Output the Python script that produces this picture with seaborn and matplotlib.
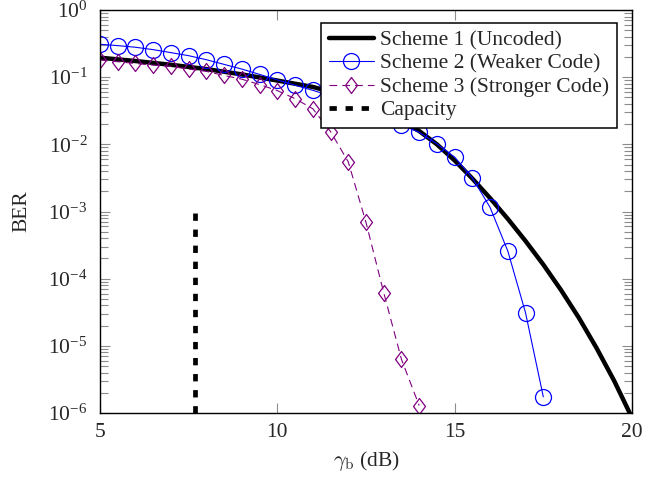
import numpy as np
import pandas as pd
import seaborn as sns
import matplotlib.pyplot as plt
from matplotlib.ticker import LogLocator, LogFormatterMathtext, NullFormatter, NullLocator

# Scheme 1 (uncoded)
snr_uncoded = [5, 6, 7, 8, 9, 10, 11, 12, 13, 14, 14.5, 15, 15.5, 16, 16.5, 17,
               17.5, 18, 18.5, 19, 19.5, 20]
ber_uncoded = [0.195, 0.174, 0.153, 0.132, 0.110, 0.0891, 0.0716, 0.0513, 0.0309,
               0.0158, 0.0100, 5.75e-3, 3.09e-3, 1.58e-3, 7.76e-4, 3.63e-4,
               1.62e-4, 6.76e-5, 2.63e-5, 9.3e-6, 3.0e-6, 8.5e-7]

# Scheme 2 (weaker code), every 0.5 dB
snr_weak = [5.0, 5.5, 6.0, 6.5, 7.0, 7.5, 8.0, 8.5, 9.0, 9.5, 10.0, 10.5, 11.0,
            11.5, 12.0, 12.5, 13.0, 13.5, 14.0, 14.5, 15.0, 15.5, 16.0, 16.5, 17.0, 17.5]
ber_weak = [0.309, 0.295, 0.279, 0.257, 0.232, 0.209, 0.182, 0.155, 0.132, 0.110,
            0.0912, 0.0759, 0.0638, 0.0525, 0.0417, 0.0331, 0.0257, 0.0195, 0.0151,
            0.0102, 6.46e-3, 3.16e-3, 1.15e-3, 2.57e-4, 3.09e-5, 1.74e-6]

# Scheme 3 (stronger code), every 0.5 dB
snr_strong = [5.0, 5.5, 6.0, 6.5, 7.0, 7.5, 8.0, 8.5, 9.0, 9.5, 10.0, 10.5, 11.0,
              11.5, 12.0, 12.5, 13.0, 13.5, 14.0]
ber_strong = [0.180, 0.170, 0.160, 0.151, 0.145, 0.132, 0.122, 0.106, 0.0933, 0.0776,
              0.0631, 0.0479, 0.0339, 0.0155, 5.5e-3, 6.9e-4, 6.2e-5, 6.3e-6, 1.29e-6]

# capacity limit marker
snr_capacity = [7.68, 7.68]
ber_capacity = [1e-6, 1e-3]

sns.set_style("ticks")
plt.rcParams["font.family"] = ["Liberation Serif", "DejaVu Serif"]
plt.rcParams["mathtext.fontset"] = "cm"

fig = plt.figure(figsize=(6.45, 4.79), dpi=100)
ax = fig.add_axes([0.155, 0.1378, 0.8248, 0.8413])

diamond = [(-0.75, 0), (0, 1), (0.75, 0), (0, -1), (-0.75, 0)]

sns.lineplot(x=snr_uncoded, y=ber_uncoded, ax=ax, color="black", lw=3.2,
             estimator=None, label="Scheme 1 (Uncoded)")
sns.lineplot(x=snr_weak, y=ber_weak, ax=ax, color="#0000ff", lw=0.8, marker="o",
             markersize=11.5, markerfacecolor="none", markeredgecolor="#0000ff",
             markeredgewidth=0.9, estimator=None, label="Scheme 2 (Weaker Code)")
sns.lineplot(x=snr_strong, y=ber_strong, ax=ax, color="#800080", lw=0.8,
             linestyle=(0, (7, 4.5)), marker=diamond, markersize=11.5,
             markerfacecolor="none", markeredgecolor="#800080", markeredgewidth=0.9,
             estimator=None, label="Scheme 3 (Stronger Code)")
sns.lineplot(x=snr_capacity, y=ber_capacity, ax=ax, color="black", lw=3.4,
             linestyle=(0, (1.55, 1.85)), estimator=None, sort=False,
             label="Capacity")

ax.set_yscale("log")
ax.set_xlim(5, 20)
ax.set_ylim(1e-6, 1)
ax.set_xticks([5, 10, 15, 20])
ax.xaxis.set_minor_locator(NullLocator())
ax.yaxis.set_major_locator(LogLocator(base=10, numticks=10))
ax.yaxis.set_major_formatter(LogFormatterMathtext())
ax.yaxis.set_minor_locator(LogLocator(base=10, subs=np.arange(2, 10), numticks=20))
ax.yaxis.set_minor_formatter(NullFormatter())

ax.tick_params(axis="both", which="both", direction="in", top=True, right=True,
               color="0.55", width=0.8)
ax.tick_params(axis="both", which="major", length=7.5, labelsize=15.5)
ax.tick_params(axis="both", which="minor", length=5.5)
ax.tick_params(axis="x", pad=7)
ax.tick_params(axis="y", pad=9)

for sp in ax.spines.values():
    sp.set_linewidth(1.0)
    sp.set_color("black")

ax.set_xlabel(r"$\gamma_\mathrm{b}$ (dB)", fontsize=15.5, labelpad=5)
ax.set_ylabel("BER", fontsize=15.5, labelpad=12)

leg = ax.legend(loc="upper right", bbox_to_anchor=(0.972, 0.968), borderaxespad=0,
                fontsize=15.5, frameon=True, fancybox=False, framealpha=1,
                edgecolor="black", handlelength=2.1, handletextpad=0.3,
                labelspacing=0.15, borderpad=0.35, numpoints=1)
leg.get_frame().set_linewidth(1.1)

fig.savefig("out.png", dpi=100)
